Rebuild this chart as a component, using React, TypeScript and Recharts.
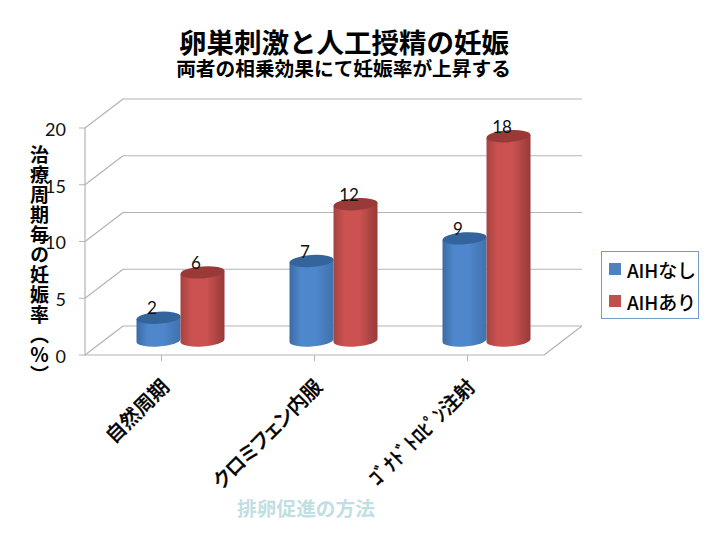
import { BarChart, Bar, XAxis, YAxis, CartesianGrid, Legend } from "recharts"

const categories = ["自然周期", "クロミフェン内服", "ｺﾞﾅﾄﾞﾄﾛﾋﾟﾝ注射"]
const withoutAih = [2, 7, 9]
const withAih = [6, 12, 18]
const yTicks = [0, 5, 10, 15, 20]

const data = categories.map((name, i) => ({ name, AIHなし: withoutAih[i], AIHあり: withAih[i] }))

const JP = '"Noto Sans CJK JP", sans-serif'
const GRID = "#b4b4b4"

// 3d look: the floor goes back by DEPTH_X / DEPTH_Y, bars stand half way in
const DEPTH_X = 38
const DEPTH_Y = 29
const BOTTOM = 355

function GridLine(props: any) {
  const { x1, x2, y1 } = props
  const isFloor = Math.abs(y1 - BOTTOM) < 1
  return (
    <g key={"grid-" + y1} fill="none" stroke={GRID} strokeWidth={1.2}>
      <line x1={x1} y1={y1} x2={x1 + DEPTH_X} y2={y1 - DEPTH_Y} />
      <line x1={x1 + DEPTH_X} y1={y1 - DEPTH_Y} x2={x2 + DEPTH_X} y2={y1 - DEPTH_Y} />
      {isFloor && <line x1={x2} y1={y1} x2={x2 + DEPTH_X} y2={y1 - DEPTH_Y} />}
    </g>
  )
}

function Cylinder(props: any, colors: { id: string; edge: string; mid: string; right: string; top: string }) {
  const { x, y, width, height } = props
  const rx = width / 2
  const ry = 6
  const tilt = -4
  const lift = rx * Math.sin((4 * Math.PI) / 180)
  const cx = x + rx + DEPTH_X / 2 - 0.5
  const top = y - DEPTH_Y / 2
  const bottom = y + height - DEPTH_Y / 2
  const body =
    `M${cx - rx} ${top + lift} L${cx - rx} ${bottom + lift} ` +
    `A${rx} ${ry} ${tilt} 0 0 ${cx + rx} ${bottom - lift} L${cx + rx} ${top - lift} Z`
  return (
    <g>
      <defs>
        <linearGradient id={colors.id} x1="0" y1="0" x2="1" y2="0">
          <stop offset="0" stopColor={colors.edge} />
          <stop offset="0.25" stopColor={colors.mid} />
          <stop offset="0.6" stopColor={colors.mid} />
          <stop offset="1" stopColor={colors.right} />
        </linearGradient>
      </defs>
      <path d={body} fill={`url(#${colors.id})`} />
      <ellipse cx={cx} cy={top} rx={rx} ry={ry} fill={colors.top} transform={`rotate(${tilt} ${cx} ${top})`} />
    </g>
  )
}

const blue = { id: "barBlue", edge: "#3b6ba3", mid: "#4f87cc", right: "#3f72ad", top: "#33649c" }
const red = { id: "barRed", edge: "#a54341", mid: "#cb5250", right: "#953b39", top: "#9a3a38" }

function BarValue(props: any) {
  const { x, y, width, value } = props
  return (
    <text
      x={x + width / 2 + DEPTH_X / 2 - 7}
      y={y - DEPTH_Y / 2 - 10}
      textAnchor="middle"
      dominantBaseline="central"
      fontFamily="Lato"
      fontSize={17}
      fill="#111"
    >
      {value}
    </text>
  )
}

function CategoryTick(props: any) {
  const { x, y, payload } = props
  const ax = x + 3
  const ay = y + 19
  return (
    <text
      x={ax}
      y={ay}
      textAnchor="end"
      dominantBaseline="central"
      transform={`rotate(-45 ${ax} ${ay})`}
      fontFamily={JP}
      fontWeight={500}
      fontSize={20}
      fill="#000"
      stroke="#000"
      strokeWidth={0.3}
      style={{ fontFeatureSettings: '"palt"' }}
    >
      {payload.value}
    </text>
  )
}

function LegendBox(props: any) {
  return (
    <div
      style={{
        width: 96,
        height: 65,
        border: "1.5px solid #6f9ccb",
        background: "#fff",
        boxSizing: "content-box",
        paddingTop: 1,
      }}
    >
      {(props.payload || []).map((item: any) => (
        <div key={item.value} style={{ display: "flex", alignItems: "center", height: 32, paddingLeft: 7 }}>
          <span style={{ width: 12, height: 12, background: item.color, marginRight: 6 }} />
          <span style={{ fontFamily: JP, fontWeight: 500, fontSize: 19, color: "#000", letterSpacing: -0.2 }}>{item.value}</span>
        </div>
      ))}
    </div>
  )
}

export default function App() {
  return (
    <div style={{ position: "absolute", left: 0, top: 0, width: 720, height: 540, background: "#fff" }} lang="ja">
      <div style={{ position: "absolute", left: 0, width: 688, top: 26, textAlign: "center", fontFamily: JP, fontWeight: 700, fontSize: 27.5, lineHeight: "30px" }}>
        卵巣刺激と人工授精の妊娠
      </div>
      <div style={{ position: "absolute", left: 0, width: 687, top: 57, textAlign: "center", fontFamily: JP, fontWeight: 700, fontSize: 19.7, lineHeight: "22px" }}>
        両者の相乗効果にて妊娠率が上昇する
      </div>
      <BarChart
        width={720}
        height={540}
        data={data}
        barSize={44}
        barGap={0}
        margin={{ top: 128, right: 176, bottom: 125, left: 0 }}
      >
        <CartesianGrid vertical={false} horizontal={GridLine} />
        <XAxis
          dataKey="name"
          interval={0}
          height={60}
          tickSize={6}
          axisLine={{ stroke: GRID, strokeWidth: 1.2 }}
          tickLine={{ stroke: GRID }}
          tick={CategoryTick}
        />
        <YAxis
          width={85}
          domain={[0, 20]}
          ticks={yTicks}
          tickSize={6}
          tickMargin={13}
          axisLine={{ stroke: GRID, strokeWidth: 1.2 }}
          tickLine={{ stroke: GRID }}
          tick={{ fontFamily: "Lato", fontSize: 18, fill: "#111", dy: 1.5 }}
        />
        <Legend
          layout="vertical"
          align="center"
          verticalAlign="middle"
          itemSorter={null}
          content={LegendBox}
          wrapperStyle={{ left: 601, top: 251, width: 98 }}
        />
        <Bar
          dataKey="AIHなし"
          fill="#4f81bd"
          isAnimationActive={false}
          shape={(p: any) => Cylinder(p, blue)}
          label={BarValue}
        />
        <Bar
          dataKey="AIHあり"
          fill="#c0504d"
          isAnimationActive={false}
          shape={(p: any) => Cylinder(p, red)}
          label={BarValue}
        />
      </BarChart>
      <div style={{ position: "absolute", left: 29, top: 145, writingMode: "vertical-rl", fontFamily: JP, fontWeight: 700, fontSize: 19, letterSpacing: 1, lineHeight: "20px", whiteSpace: "nowrap" }}>
        治療周期毎の妊娠率（％）
      </div>
      <div style={{ position: "absolute", left: 206, width: 200, top: 494, textAlign: "center", fontFamily: JP, fontWeight: 700, fontSize: 19.7, lineHeight: "28px", color: "#bfdfe3" }}>
        排卵促進の方法
      </div>
    </div>
  )
}
